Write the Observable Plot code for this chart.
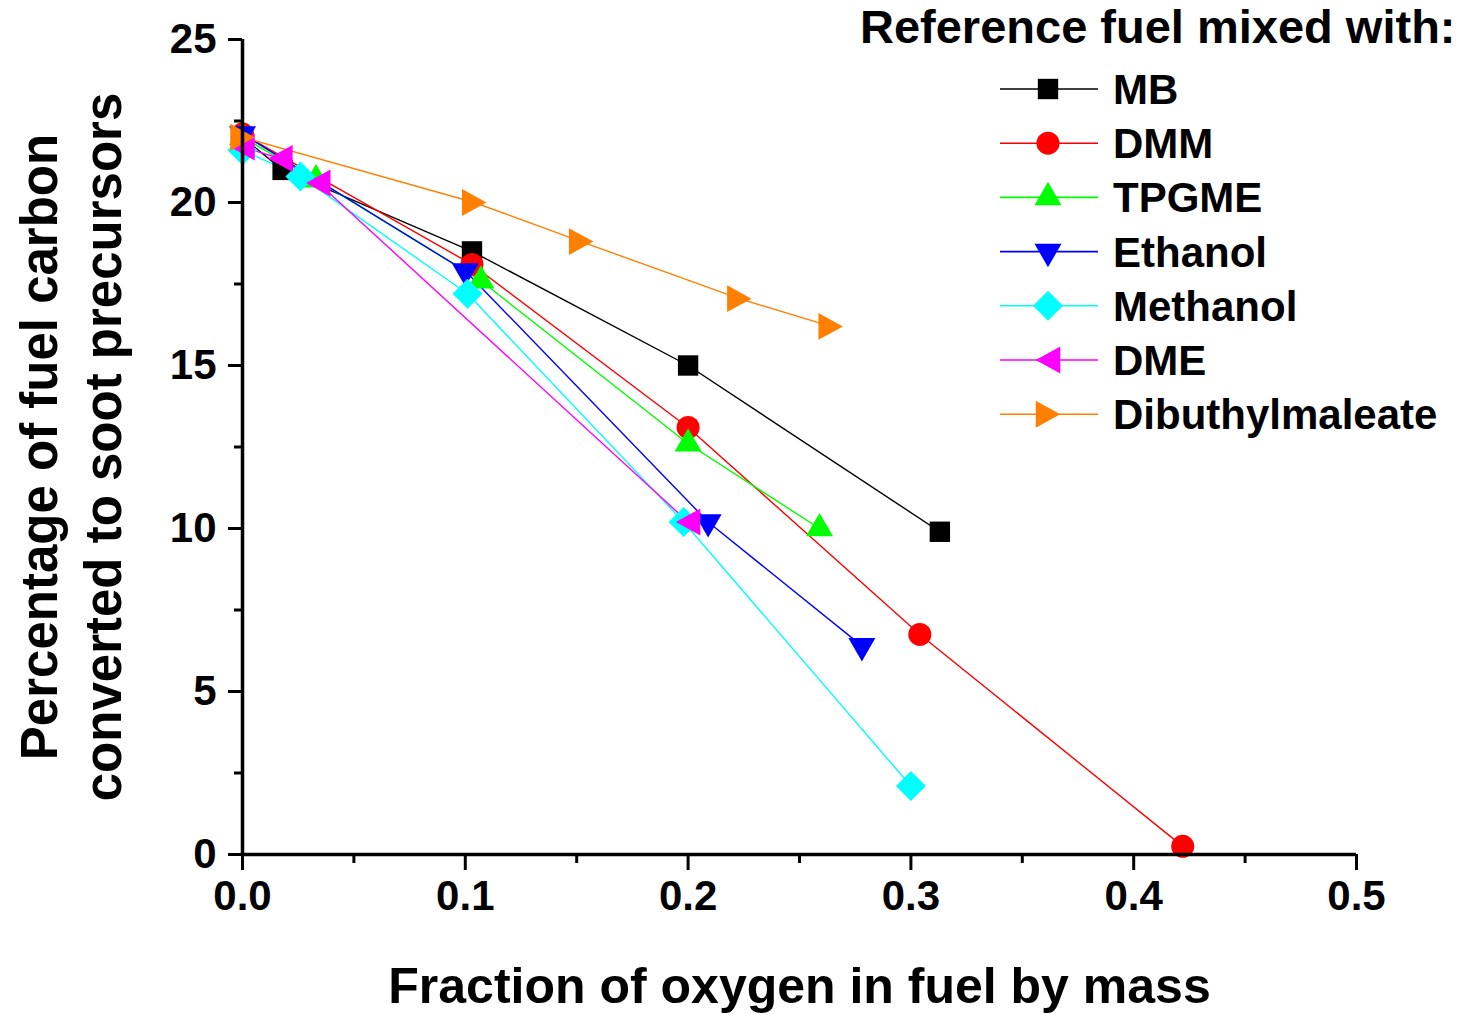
<!DOCTYPE html>
<html><head><meta charset="utf-8">
<script src="https://cdn.jsdelivr.net/npm/d3@7"></script>
<script src="https://cdn.jsdelivr.net/npm/@observablehq/plot@0.6"></script>
<style>
body{margin:0;background:#fff;font-family:"Liberation Sans",Arial,sans-serif}
#wrap{position:relative;width:1476px;height:1014px}
#legend{position:absolute;left:0;top:0;pointer-events:none}
</style></head><body><div id="wrap"></div>
<script>
// ---- data ----
const seriesNames = ["MB","DMM","TPGME","Ethanol","Methanol","DME","Dibuthylmaleate"];
const seriesColors = ["#000000","#ff0000","#00ff00","#0000ff","#00ffff","#ff00ff","#ff8000"];
const mbX = [0, 0.018, 0.103, 0.2, 0.313];
const mbY = [22.0, 21.0, 18.5, 15.0, 9.9];
const dmmX = [0, 0.103, 0.2, 0.304, 0.422];
const dmmY = [22.1, 18.1, 13.1, 6.75, 0.25];
const tpgmeX = [0, 0.033, 0.107, 0.2, 0.259];
const tpgmeY = [22.0, 20.7, 17.6, 12.6, 10.0];
const ethanolX = [0, 0.1, 0.209, 0.278];
const ethanolY = [22.1, 17.9, 10.2, 6.4];
const methanolX = [0, 0.026, 0.101, 0.198, 0.3];
const methanolY = [21.6, 20.8, 17.2, 10.2, 2.1];
const dmeX = [0, 0.017, 0.034, 0.2];
const dmeY = [21.7, 21.35, 20.6, 10.2];
const dbmX = [0, 0.104, 0.152, 0.223, 0.264];
const dbmY = [22.0, 20.0, 18.8, 17.05, 16.2];
const xTicks = [0, 0.1, 0.2, 0.3, 0.4, 0.5];
const xTickLabels = ["0.0","0.1","0.2","0.3","0.4","0.5"];
const xMinorTicks = [0.05, 0.15, 0.25, 0.35, 0.45];
const yTicks = [0, 5, 10, 15, 20, 25];
const yMinorTicks = [2.5, 7.5, 12.5, 17.5, 22.5];
const xTitle = "Fraction of oxygen in fuel by mass";
const yTitle1 = "Percentage of fuel carbon";
const yTitle2 = "converted to soot precursors";
const legendTitle = "Reference fuel mixed with:";

// ---- symbols ----
const S3 = Math.sqrt(3);
const symSquare = {draw(c, size){const s = Math.sqrt(size)/2; c.rect(-s,-s,2*s,2*s);}};
const symCircle = d3.symbolCircle;
const symUp = {draw(c, size){const y = -Math.sqrt(0.76*size/(S3*3)); c.moveTo(0,y*2); c.lineTo(-S3*y,-y); c.lineTo(S3*y,-y); c.closePath();}};
const symDown = {draw(c, size){const y = -Math.sqrt(0.76*size/(S3*3)); c.moveTo(0,-y*2); c.lineTo(-S3*y,y); c.lineTo(S3*y,y); c.closePath();}};
const symDiamond = {draw(c, size){const s = Math.sqrt(size)*0.735; c.moveTo(0,-s); c.lineTo(s,0); c.lineTo(0,s); c.lineTo(-s,0); c.closePath();}};
const symLeft = {draw(c, size){const w = Math.sqrt(size)*1.2, h = Math.sqrt(size)*0.66; c.moveTo(-w/2,0); c.lineTo(w/2,-h); c.lineTo(w/2,h); c.closePath();}};
const symRight = {draw(c, size){const w = Math.sqrt(size)*1.2, h = Math.sqrt(size)*0.66; c.moveTo(w/2,0); c.lineTo(-w/2,-h); c.lineTo(-w/2,h); c.closePath();}};
const seriesSymbols = [symSquare, symCircle, symUp, symDown, symDiamond, symLeft, symRight];

const seriesX = [mbX, dmmX, tpgmeX, ethanolX, methanolX, dmeX, dbmX];
const seriesY = [mbY, dmmY, tpgmeY, ethanolY, methanolY, dmeY, dbmY];

const font = '"Liberation Sans", Arial, sans-serif';
const marks = [];
seriesNames.forEach((name, i) => {
  const rows = seriesX[i].map((x, j) => ({series: name, x, y: seriesY[i][j]}));
  marks.push(Plot.line(rows, {x: "x", y: "y", stroke: seriesColors[i], strokeWidth: 1.4}));
});
seriesNames.forEach((name, i) => {
  const rows = seriesX[i].map((x, j) => ({series: name, x, y: seriesY[i][j]}));
  marks.push(Plot.dot(rows, {x: "x", y: "y", r: 11.5, symbol: seriesSymbols[i], fill: seriesColors[i], stroke: "none"}));
});

const chart = Plot.plot({
  width: 1476, height: 1014,
  marginLeft: 242, marginRight: 120, marginTop: 39, marginBottom: 160,
  style: {fontFamily: font, background: "#fff", overflow: "visible"},
  x: {domain: [0, 0.5]},
  y: {domain: [0, 25]},
  marks: [
    ...marks,
    Plot.axisX({ticks: xMinorTicks, tickSize: 9, strokeWidth: 3, text: null, label: null}),
    Plot.axisY({ticks: yMinorTicks, tickSize: 8, strokeWidth: 3, text: null, label: null}),
    Plot.axisX({ticks: xTicks, tickSize: 16, tickPadding: 10, strokeWidth: 3, tickFormat: (d, i) => xTickLabels[i], fontSize: 42, fontWeight: "bold", label: null, fill: "#000"}),
    Plot.axisY({ticks: yTicks, tickSize: 14, tickPadding: 12, strokeWidth: 3, fontSize: 42, fontWeight: "bold", label: null, fill: "#000"}),
    Plot.ruleY([0], {strokeWidth: 3.5}),
    Plot.ruleX([0], {strokeWidth: 3.5}),
    Plot.text([xTitle], {text: d => d, frameAnchor: "bottom", dy: 132, lineAnchor: "middle", textAnchor: "middle", fontSize: 50, fontWeight: "bold", fill: "#000"}),
    Plot.text([yTitle1], {text: d => d, frameAnchor: "left", dx: -202, rotate: -90, lineAnchor: "middle", textAnchor: "middle", fontSize: 51, fontWeight: "bold", fill: "#000"}),
    Plot.text([yTitle2], {text: d => d, frameAnchor: "left", dx: -138, rotate: -90, lineAnchor: "middle", textAnchor: "middle", fontSize: 51, fontWeight: "bold", fill: "#000"})
  ]
});
const wrap = document.getElementById("wrap");
wrap.appendChild(chart);

// ---- legend overlay ----
const leg = d3.select(wrap).append("svg").attr("id","legend").attr("width",1476).attr("height",1014)
  .style("font-family", font).style("font-weight","bold");
leg.append("text").attr("x", 860).attr("y", 43).attr("font-size", 47).attr("fill","#000").text(legendTitle);
seriesNames.forEach((name, i) => {
  const cy = 89 + i*54.2;
  const g = leg.append("g").attr("transform", `translate(0,${cy})`);
  g.append("line").attr("x1",1000).attr("x2",1098).attr("y1",0).attr("y2",0).attr("stroke",seriesColors[i]).attr("stroke-width",1.6);
  g.append("path").attr("transform","translate(1048,0)").attr("d", d3.symbol(seriesSymbols[i], 415)()).attr("fill", seriesColors[i]);
  g.append("text").attr("x",1113).attr("y",15).attr("font-size",42).attr("fill","#000").text(name);
});
</script></body></html>
